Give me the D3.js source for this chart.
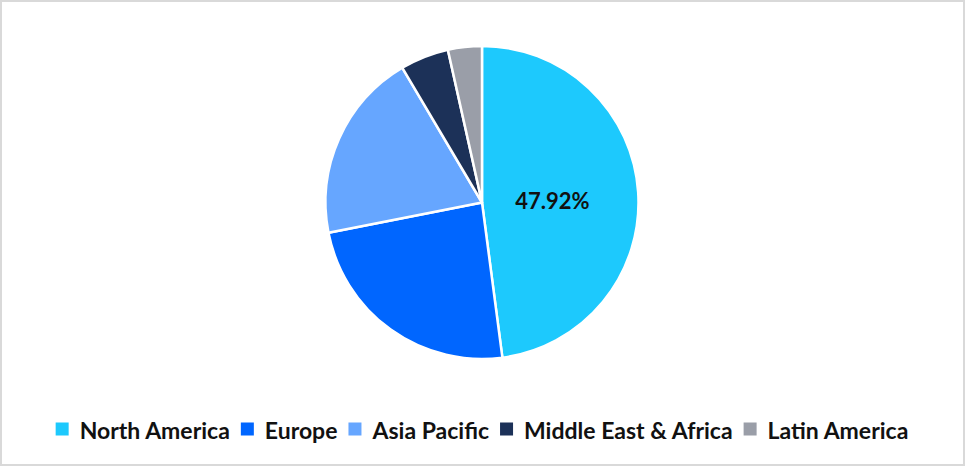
<!DOCTYPE html>
<html><head><meta charset="utf-8">
<script src="https://cdn.jsdelivr.net/npm/d3@7"></script>
<style>html,body{margin:0;padding:0;background:#fff;}svg{display:block;}</style>
</head><body>
<svg id="chart" width="965" height="466"></svg>
<script>
const categories = ["North America", "Europe", "Asia Pacific", "Middle East & Africa", "Latin America"];
const values = [47.92, 23.98, 19.6, 5.0, 3.5];
const colors = ["#1dc9fd", "#0066ff", "#66a6ff", "#1c3158", "#9a9ea8"];
const labelShown = [true, false, false, false, false];

const W = 965, H = 466;
const svg = d3.select("#chart");
svg.append("rect").attr("x", 1).attr("y", 1).attr("width", W - 2).attr("height", H - 2)
  .attr("fill", "#fff").attr("stroke", "#d9d9d9").attr("stroke-width", 2);

const cx = 482, cy = 202.5, R = 156.5;
const data = categories.map((c, i) => ({ name: c, value: values[i], color: colors[i], show: labelShown[i] }));
const pie = d3.pie().value(d => d.value).sort(null);
const arc = d3.arc().innerRadius(0).outerRadius(R);
const labelArc = d3.arc().innerRadius(R * 0.9).outerRadius(0);
const g = svg.append("g").attr("transform", `translate(${cx},${cy})`);
const arcs = pie(data);
g.selectAll("path").data(arcs).join("path")
  .attr("d", arc).attr("fill", d => d.data.color)
  .attr("stroke", "#fff").attr("stroke-width", 2.5).attr("stroke-linejoin", "round");

const total = d3.sum(values);
g.selectAll("text.lbl").data(arcs.filter(d => d.data.show)).join("text")
  .attr("class", "lbl")
  .attr("transform", d => { const c = labelArc.centroid(d); return `translate(${c[0]},${c[1] + 3})`; })
  .attr("text-anchor", "middle").attr("dominant-baseline", "central")
  .attr("font-family", "Lato, 'Open Sans', sans-serif").attr("font-weight", "bold")
  .attr("font-size", 22).attr("fill", "#111")
  .text(d => (d.data.value / total * 100).toFixed(2) + "%");

// legend
const legendFont = "Lato, 'Open Sans', sans-serif";
const fontSize = 23;
const sq = 13, gapSqText = 11, gapItems = 11;
const lg = svg.append("g");
const items = lg.selectAll("g").data(data).join("g");
items.append("rect").attr("width", sq).attr("height", sq).attr("fill", d => d.color).attr("y", -sq / 2);
items.append("text").attr("x", sq + gapSqText).attr("dominant-baseline", "central").attr("y", 1)
  .attr("font-family", legendFont).attr("font-weight", "bold").attr("font-size", fontSize)
  .attr("fill", "#111").text(d => d.name);
let x = 0;
items.each(function () {
  const t = d3.select(this).select("text").node();
  const w = t.getComputedTextLength();
  d3.select(this).attr("transform", `translate(${x},0)`);
  x += sq + gapSqText + w + gapItems;
});
const totalW = x - gapItems;
lg.attr("transform", `translate(${482 - totalW / 2},${429})`);
</script>
</body></html>
